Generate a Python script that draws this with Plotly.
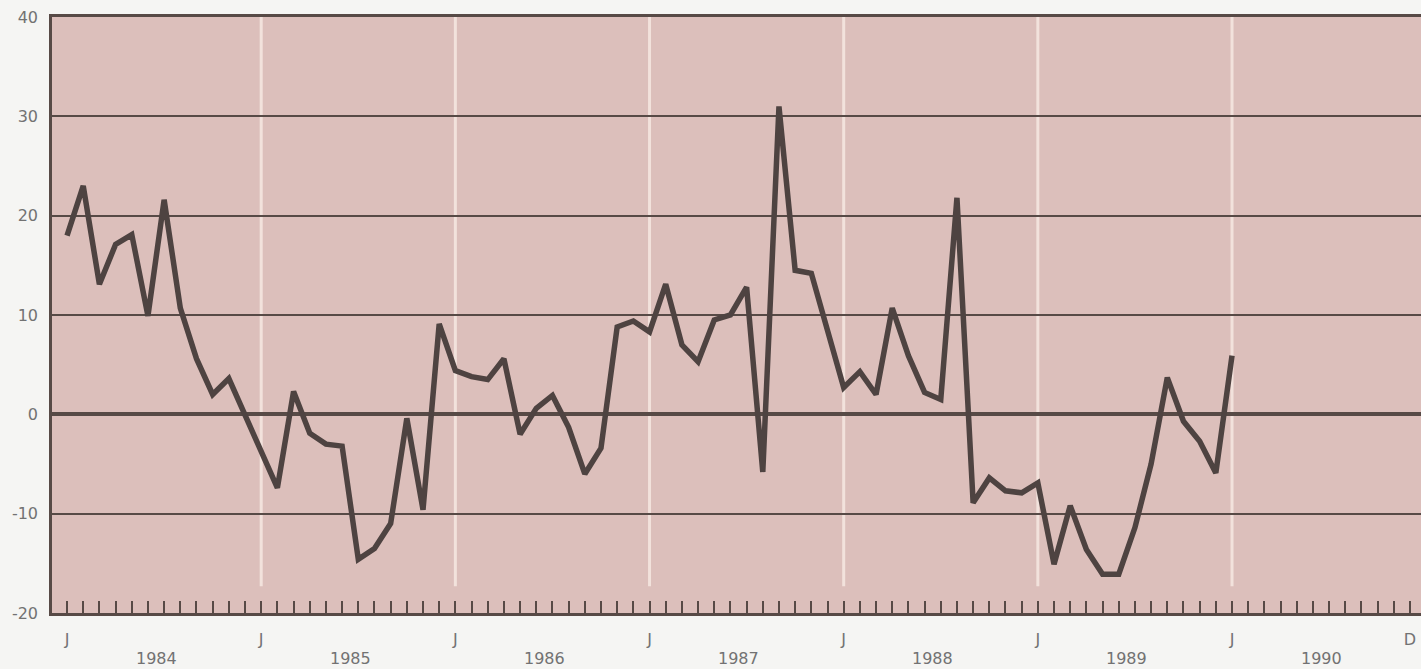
import plotly.graph_objects as go

# Monthly values, Jan 1984 .. Jan 1990
months = list(range(73))
values = [
    18.0, 23.0, 13.1, 17.1, 18.1, 9.9, 21.6, 10.7, 5.6, 2.0, 3.6, 0.0,        # 1984
    -3.7, -7.4, 2.3, -1.9, -3.0, -3.2, -14.6, -13.5, -11.0, -0.4, -9.6, 9.1,  # 1985
    4.4, 3.8, 3.5, 5.6, -2.0, 0.6, 1.9, -1.3, -6.0, -3.4, 8.8, 9.4,           # 1986
    8.3, 13.1, 7.0, 5.3, 9.5, 10.0, 12.8, -5.8, 31.0, 14.5, 14.2, 8.5,        # 1987
    2.7, 4.3, 2.0, 10.7, 5.9, 2.2, 1.5, 21.8, -8.9, -6.4, -7.7, -7.9,         # 1988
    -6.9, -15.1, -9.2, -13.6, -16.1, -16.1, -11.4, -5.0, 3.7, -0.7, -2.7, -5.9,  # 1989
    5.9,                                                                      # 1990
]

years = ["1984", "1985", "1986", "1987", "1988", "1989", "1990"]
tick_months = list(range(84))  # Jan 1984 .. Dec 1990
tick_text = ["J" if m % 12 == 0 else ("D" if m == 83 else "") for m in tick_months]
january_lines = [12, 24, 36, 48, 60, 72]
y_ticks = [-20, -10, 0, 10, 20, 30, 40]
y_tick_text = ["-20", "-10", "0", "10", "20", "30", "40"]

DARK = "#574a46"
LINE = "#4e4341"
TEXT = "#727272"
FONT = "DejaVu Sans"

fig = go.Figure()
fig.add_trace(go.Scatter(
    x=months, y=values, mode="lines",
    line=dict(color=LINE, width=5.5),
    hoverinfo="skip", showlegend=False,
))

for m in january_lines:
    fig.add_shape(type="line", xref="x", yref="y", x0=m, x1=m, y0=-17.3, y1=40,
                  line=dict(color="#f2e2dc", width=3), layer="below")

for i, yr in enumerate(years):
    fig.add_annotation(x=i * 12 + 5.5, y=0, xref="x", yref="paper", text=yr,
                       showarrow=False, yanchor="top", yshift=-34,
                       font=dict(family=FONT, size=16, color=TEXT))

fig.update_layout(
    width=1421, height=669,
    margin=dict(l=52, r=0, t=17, b=56),
    paper_bgcolor="#f5f5f3",
    plot_bgcolor="#dcbfbb",
    showlegend=False,
    xaxis=dict(
        range=[-0.93, 83.68],
        tickmode="array", tickvals=tick_months, ticktext=tick_text,
        ticks="inside", ticklen=12, tickwidth=2, tickcolor=DARK,
        showgrid=False, zeroline=False,
        showline=True, linecolor=DARK, linewidth=2.5, mirror=True,
        tickfont=dict(family=FONT, size=16, color=TEXT),
        ticklabelstandoff=10,
    ),
    yaxis=dict(
        range=[-20, 40],
        tickmode="array", tickvals=y_ticks, ticktext=y_tick_text,
        ticks="", showgrid=True, gridcolor=DARK, gridwidth=2,
        zeroline=True, zerolinecolor=DARK, zerolinewidth=4,
        showline=True, linecolor=DARK, linewidth=2.5,
        tickfont=dict(family=FONT, size=16, color=TEXT),
        ticklabelstandoff=8,
    ),
)

fig.write_html("out.html", config={"displayModeBar": False},
               post_script="document.body.style.margin='0';document.body.style.overflow='hidden';")
